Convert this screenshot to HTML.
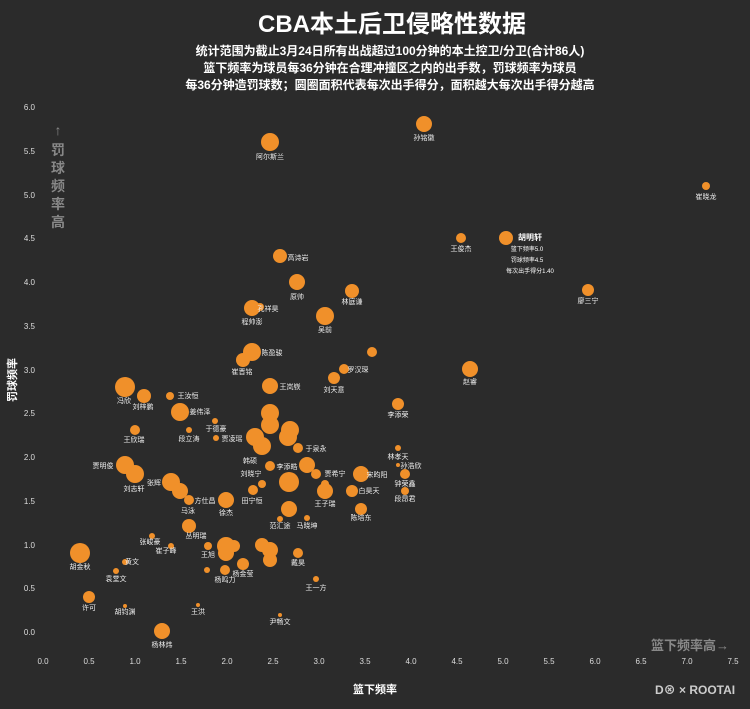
<!DOCTYPE html><html><head><meta charset="utf-8"><style>
body{margin:0;background:#2b2b2b;}
svg text{font-family:"Liberation Sans","Noto Sans CJK SC",sans-serif;}
</style></head><body>
<svg width="750" height="704" viewBox="0 0 750 704" xmlns="http://www.w3.org/2000/svg">
<rect width="750" height="704" fill="#2b2b2b"/>
<text x="392" y="32" font-size="24" font-weight="bold" fill="#fff" text-anchor="middle">CBA本土后卫侵略性数据</text>
<g font-size="12" font-weight="bold" fill="#fff" text-anchor="middle">
<text x="390" y="55">统计范围为截止3月24日所有出战超过100分钟的本土控卫/分卫(合计86人)</text>
<text x="390" y="72">篮下频率为球员每36分钟在合理冲撞区之内的出手数，罚球频率为球员</text>
<text x="390" y="89">每36分钟造罚球数；圆圈面积代表每次出手得分，面积越大每次出手得分越高</text>
</g>
<g font-size="8" fill="#ddd" text-anchor="end">
<text x="35" y="635">0.0</text><text x="35" y="591">0.5</text><text x="35" y="548">1.0</text><text x="35" y="504">1.5</text><text x="35" y="460">2.0</text><text x="35" y="416">2.5</text><text x="35" y="373">3.0</text><text x="35" y="329">3.5</text><text x="35" y="285">4.0</text><text x="35" y="241">4.5</text><text x="35" y="198">5.0</text><text x="35" y="154">5.5</text><text x="35" y="110">6.0</text>
</g>
<g font-size="8" fill="#ddd" text-anchor="middle">
<text x="43" y="664">0.0</text><text x="89" y="664">0.5</text><text x="135" y="664">1.0</text><text x="181" y="664">1.5</text><text x="227" y="664">2.0</text><text x="273" y="664">2.5</text><text x="319" y="664">3.0</text><text x="365" y="664">3.5</text><text x="411" y="664">4.0</text><text x="457" y="664">4.5</text><text x="503" y="664">5.0</text><text x="549" y="664">5.5</text><text x="595" y="664">6.0</text><text x="641" y="664">6.5</text><text x="687" y="664">7.0</text><text x="733" y="664">7.5</text>
</g>
<text x="375" y="693" font-size="11" font-weight="bold" fill="#fff" text-anchor="middle">篮下频率</text>
<text transform="translate(16,380) rotate(-90)" font-size="11" font-weight="bold" fill="#fff" text-anchor="middle">罚球频率</text>
<g font-size="14" font-weight="bold" fill="#888" text-anchor="middle">
<text x="58" y="135">↑</text><text x="58" y="155">罚</text><text x="58" y="173">球</text><text x="58" y="191">频</text><text x="58" y="209">率</text><text x="58" y="227">高</text>
</g>
<text x="690" y="650" font-size="13" font-weight="bold" fill="#888" text-anchor="middle">篮下频率高→</text>
<text x="655" y="694" font-size="12" font-weight="bold" fill="#ccc">D⊗ × ROOTAI</text>
<g fill="#f0902a">
<circle cx="424" cy="124" r="8"/><circle cx="270" cy="142" r="9"/><circle cx="706" cy="186" r="4"/><circle cx="461" cy="238" r="5"/><circle cx="506" cy="238" r="7"/><circle cx="588" cy="290" r="6"/>
<circle cx="280" cy="256" r="7"/><circle cx="297" cy="282" r="8"/><circle cx="352" cy="291" r="7"/><circle cx="260" cy="307" r="4"/><circle cx="252" cy="308" r="8"/><circle cx="325" cy="316" r="9"/>
<circle cx="252" cy="352" r="9"/><circle cx="243" cy="360" r="7"/><circle cx="470" cy="369" r="8"/><circle cx="372" cy="352" r="5"/><circle cx="344" cy="369" r="5"/><circle cx="334" cy="378" r="6"/>
<circle cx="270" cy="386" r="8"/><circle cx="125" cy="387" r="10"/><circle cx="144" cy="396" r="7"/><circle cx="170" cy="396" r="4"/><circle cx="398" cy="404" r="6"/><circle cx="180" cy="412" r="9"/>
<circle cx="270" cy="413" r="9"/><circle cx="270" cy="425" r="9"/><circle cx="290" cy="430" r="9"/><circle cx="288" cy="437" r="9"/><circle cx="215" cy="421" r="3"/><circle cx="135" cy="430" r="5"/><circle cx="189" cy="430" r="3"/><circle cx="216" cy="438" r="3"/>
<circle cx="255" cy="437" r="9"/><circle cx="262" cy="446" r="9"/><circle cx="298" cy="448" r="5"/><circle cx="398" cy="448" r="3"/><circle cx="398" cy="465" r="2"/>
<circle cx="125" cy="465" r="9"/><circle cx="135" cy="474" r="9"/><circle cx="270" cy="466" r="5"/><circle cx="307" cy="465" r="8"/><circle cx="316" cy="474" r="5"/><circle cx="361" cy="474" r="8"/><circle cx="405" cy="474" r="5"/>
<circle cx="171" cy="482" r="9"/><circle cx="180" cy="491" r="8"/><circle cx="189" cy="500" r="5"/><circle cx="226" cy="500" r="8"/><circle cx="253" cy="490" r="5"/><circle cx="262" cy="484" r="4"/><circle cx="289" cy="482" r="10"/>
<circle cx="325" cy="491" r="8"/><circle cx="352" cy="491" r="6"/><circle cx="405" cy="491" r="4"/><circle cx="325" cy="484" r="4"/><circle cx="361" cy="509" r="6"/><circle cx="289" cy="509" r="8"/><circle cx="280" cy="519" r="3"/><circle cx="307" cy="518" r="3"/>
<circle cx="189" cy="526" r="7"/><circle cx="208" cy="546" r="4"/><circle cx="226" cy="546" r="9"/><circle cx="226" cy="553" r="8"/><circle cx="234" cy="546" r="6"/><circle cx="262" cy="545" r="7"/><circle cx="270" cy="550" r="8"/><circle cx="270" cy="560" r="7"/>
<circle cx="298" cy="553" r="5"/><circle cx="152" cy="536" r="3"/><circle cx="171" cy="546" r="3"/><circle cx="125" cy="562" r="3"/><circle cx="80" cy="553" r="10"/><circle cx="116" cy="571" r="3"/><circle cx="225" cy="570" r="5"/><circle cx="243" cy="564" r="6"/><circle cx="207" cy="570" r="3"/>
<circle cx="316" cy="579" r="3"/><circle cx="89" cy="597" r="6"/><circle cx="125" cy="606" r="2"/><circle cx="198" cy="605" r="2"/><circle cx="280" cy="615" r="2"/><circle cx="162" cy="631" r="8"/>
</g>
<g font-size="7" fill="#eee" text-anchor="middle">
<text x="424" y="140">孙铭徽</text><text x="270" y="159">阿尔斯兰</text><text x="706" y="199">崔晓龙</text><text x="461" y="251">王俊杰</text><text x="588" y="303">廖三宁</text>
<text x="298" y="260">高诗岩</text><text x="297" y="299">原帅</text><text x="352" y="304">林庭谦</text><text x="268" y="311">孔祥昊</text><text x="252" y="324">程帅澎</text><text x="325" y="332">吴前</text>
<text x="272" y="355">陈盈骏</text><text x="242" y="374">崔晋铭</text><text x="470" y="384">赵睿</text><text x="358" y="372">罗汉琛</text><text x="334" y="392">刘天意</text>
<text x="290" y="389">王岚嵚</text><text x="124" y="403">冯欣</text><text x="143" y="409">刘梓鹏</text><text x="188" y="398">王汝恒</text><text x="398" y="417">李添荣</text><text x="200" y="414">姜伟泽</text>
<text x="216" y="431">于德豪</text><text x="134" y="442">王欣瑞</text><text x="189" y="441">段立涛</text><text x="232" y="441">贾凌瑶</text><text x="316" y="451">于泉永</text><text x="250" y="463">韩硕</text>
<text x="398" y="459">林孝天</text><text x="411" y="468">孙浩欣</text><text x="103" y="468">贾明俊</text><text x="134" y="491">刘志轩</text><text x="251" y="476">刘晓宁</text><text x="287" y="469">李添皓</text>
<text x="335" y="476">贾希宁</text><text x="377" y="477">宋昀阳</text><text x="405" y="486">钟荣鑫</text><text x="154" y="485">张辉</text><text x="188" y="513">马泳</text><text x="205" y="503">方仕昌</text><text x="226" y="515">徐杰</text>
<text x="252" y="503">田宁恒</text><text x="325" y="506">王子瑞</text><text x="369" y="493">白昊天</text><text x="405" y="501">段昂君</text><text x="361" y="520">陈培东</text><text x="280" y="528">范汇途</text><text x="307" y="528">马晓坤</text>
<text x="196" y="538">丛明瑞</text><text x="208" y="557">王旭</text><text x="298" y="565">戴昊</text><text x="150" y="544">张峻豪</text><text x="166" y="553">崔子峰</text><text x="132" y="564">黄文</text><text x="80" y="569">胡金秋</text><text x="116" y="581">袁堂文</text>
<text x="225" y="582">杨鸣力</text><text x="243" y="576">杨金莹</text><text x="316" y="590">王一方</text><text x="89" y="610">许可</text><text x="125" y="614">胡钧渊</text><text x="198" y="614">王洪</text><text x="280" y="624">尹畅文</text><text x="162" y="647">杨林炜</text>
</g>
<text x="530" y="240" font-size="8" font-weight="bold" fill="#fff" text-anchor="middle">胡明轩</text>
<g font-size="6" fill="#fff" text-anchor="middle">
<text x="527" y="251">篮下频率5.0</text><text x="527" y="262">罚球频率4.5</text><text x="530" y="273">每次出手得分1.40</text>
</g>
</svg>
</body></html>
